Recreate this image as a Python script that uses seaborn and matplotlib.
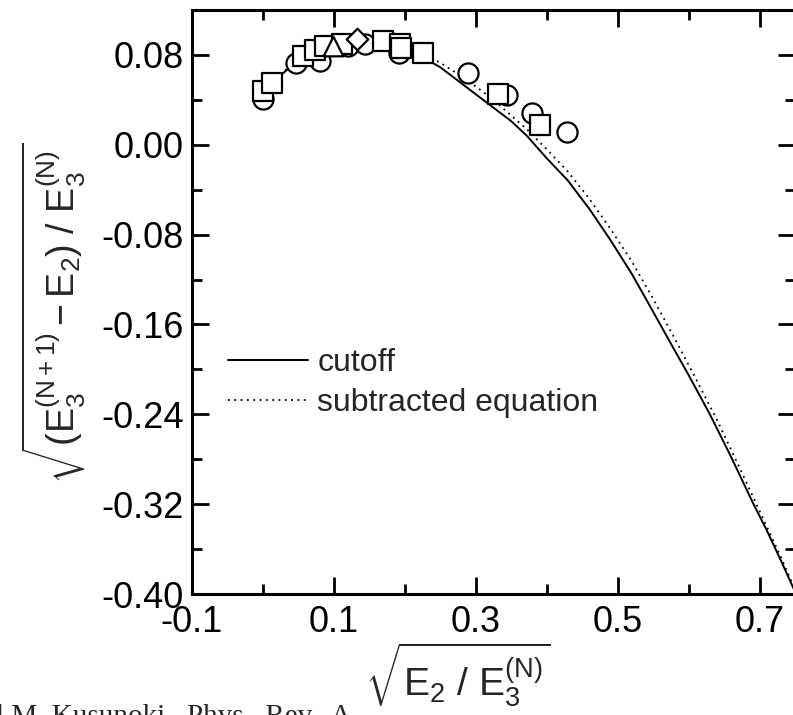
import numpy as np
import pandas as pd
import matplotlib
matplotlib.use('Agg')
import matplotlib.pyplot as plt
from matplotlib.ticker import FixedLocator, FormatStrFormatter
import seaborn as sns

# curve values
cut_x = [0.0, 0.025, 0.05, 0.075, 0.1, 0.125, 0.15, 0.175, 0.2, 0.225, 0.25, 0.275, 0.3, 0.325,
         0.35, 0.372, 0.4, 0.43, 0.46, 0.49, 0.52, 0.545, 0.575, 0.6, 0.63, 0.66, 0.69, 0.71, 0.73, 0.75]
cut_y = [0.045, 0.062, 0.075, 0.084, 0.090, 0.093, 0.093, 0.091, 0.086, 0.078, 0.069, 0.057, 0.045, 0.033,
         0.021, 0.008, -0.012, -0.032, -0.057, -0.085, -0.115, -0.143, -0.177, -0.205, -0.240, -0.278,
         -0.318, -0.343, -0.370, -0.398]

sub_x = [0.0, 0.025, 0.05, 0.075, 0.1, 0.125, 0.15, 0.175, 0.2, 0.225, 0.25, 0.275, 0.3, 0.325,
         0.35, 0.375, 0.4, 0.43, 0.46, 0.49, 0.52, 0.55, 0.58, 0.61, 0.64, 0.67, 0.70, 0.73, 0.75]
sub_y = [0.046, 0.063, 0.076, 0.085, 0.091, 0.094, 0.094, 0.092, 0.088, 0.081, 0.073, 0.063, 0.052, 0.040,
         0.026, 0.012, -0.004, -0.024, -0.048, -0.075, -0.104, -0.137, -0.172, -0.208, -0.245, -0.285,
         -0.326, -0.367, -0.396]

# data points
circ_x = [0.000, 0.046, 0.080, 0.120, 0.144, 0.192, 0.289, 0.344, 0.379, 0.428]
circ_y = [0.041, 0.073, 0.075, 0.088, 0.090, 0.082, 0.064, 0.044, 0.028, 0.011]
sq_x = [0.000, 0.013, 0.056, 0.073, 0.087, 0.111, 0.169, 0.193, 0.195, 0.225, 0.331, 0.390]
sq_y = [0.048, 0.055, 0.079, 0.084, 0.088, 0.090, 0.092, 0.090, 0.086, 0.082, 0.045, 0.018]
tri_x = [0.099]
tri_y = [0.088]
dia_x = [0.132]
dia_y = [0.094]

x_major = [-0.1, 0.1, 0.3, 0.5, 0.7]
x_minor = [0.0, 0.2, 0.4, 0.6]
y_major = [0.08, 0.00, -0.08, -0.16, -0.24, -0.32, -0.40]
y_minor = [0.04, -0.04, -0.12, -0.20, -0.28, -0.36]

sns.set_theme(style='ticks')
plt.rcParams['font.family'] = ['Liberation Sans', 'DejaVu Sans']
plt.rcParams['mathtext.fontset'] = 'custom'
plt.rcParams['mathtext.rm'] = 'Liberation Sans'
plt.rcParams['mathtext.it'] = 'Liberation Sans'
plt.rcParams['mathtext.bf'] = 'Liberation Sans:bold'
plt.rcParams['axes.unicode_minus'] = False

fig = plt.figure(figsize=(7.93, 7.15), dpi=100)
ax = fig.add_axes([192/793, 1 - 594/715, 603/793, 584/715])

cut = pd.DataFrame({'x': cut_x, 'y': cut_y})
sub = pd.DataFrame({'x': sub_x, 'y': sub_y})
sns.lineplot(data=cut, x='x', y='y', ax=ax, color='black', linewidth=1.4, label='cutoff', sort=False)
sns.lineplot(data=sub, x='x', y='y', ax=ax, color='black', linewidth=1.3, linestyle=(0, (1, 2.5)),
             label='subtracted equation', sort=False)

for xs, ys, m, s in [(circ_x, circ_y, 'o', 210), (sq_x, sq_y, 's', 190),
                     (tri_x, tri_y, '^', 200), (dia_x, dia_y, 'D', 120)]:
    sns.scatterplot(x=xs, y=ys, ax=ax, marker=m, s=s, facecolor='white', edgecolor='black',
                    linewidth=1.6, legend=False, zorder=3)

ax.set_xlim(-0.1, 0.75)
ax.set_ylim(-0.40, 0.12)
ax.xaxis.set_major_locator(FixedLocator(x_major))
ax.xaxis.set_minor_locator(FixedLocator(x_minor))
ax.yaxis.set_major_locator(FixedLocator(y_major))
ax.yaxis.set_minor_locator(FixedLocator(y_minor))
ax.xaxis.set_major_formatter(FormatStrFormatter('%.1f'))
ax.yaxis.set_major_formatter(FormatStrFormatter('%.2f'))
ax.tick_params(which='both', direction='in', top=True, right=True, width=2, colors='black',
               labelsize=26)
ax.tick_params(which='major', length=12, pad=6)
ax.tick_params(axis='x', which='major', pad=8)
ax.tick_params(which='minor', length=7)
for sp in ax.spines.values():
    sp.set_linewidth(2.2)
    sp.set_color('black')
    sp.set_visible(True)

ax.set_xlabel(r'$\sqrt{\mathrm{E_2\ /\ E_3^{(N)}}}$', fontsize=28)
ax.xaxis.set_label_coords(0.44, -0.08)
ax.set_ylabel(r'$\sqrt{\mathrm{(E_3^{(N+1)}-E_2)\ /\ E_3^{(N)}}}$', fontsize=27)
ax.yaxis.set_label_coords(-0.172, 0.48)

ax.legend(loc='upper left', bbox_to_anchor=(0.012, 0.47), frameon=False, fontsize=23,
          handlelength=2.5, handletextpad=0.3, labelspacing=0.3)

fig.text(-0.005, -0.012, 'l M. Kusunoki,  Phys.  Rev.  A', fontsize=21, family='Liberation Serif',
         va='baseline', ha='left')

fig.savefig('out.png', dpi=100)
